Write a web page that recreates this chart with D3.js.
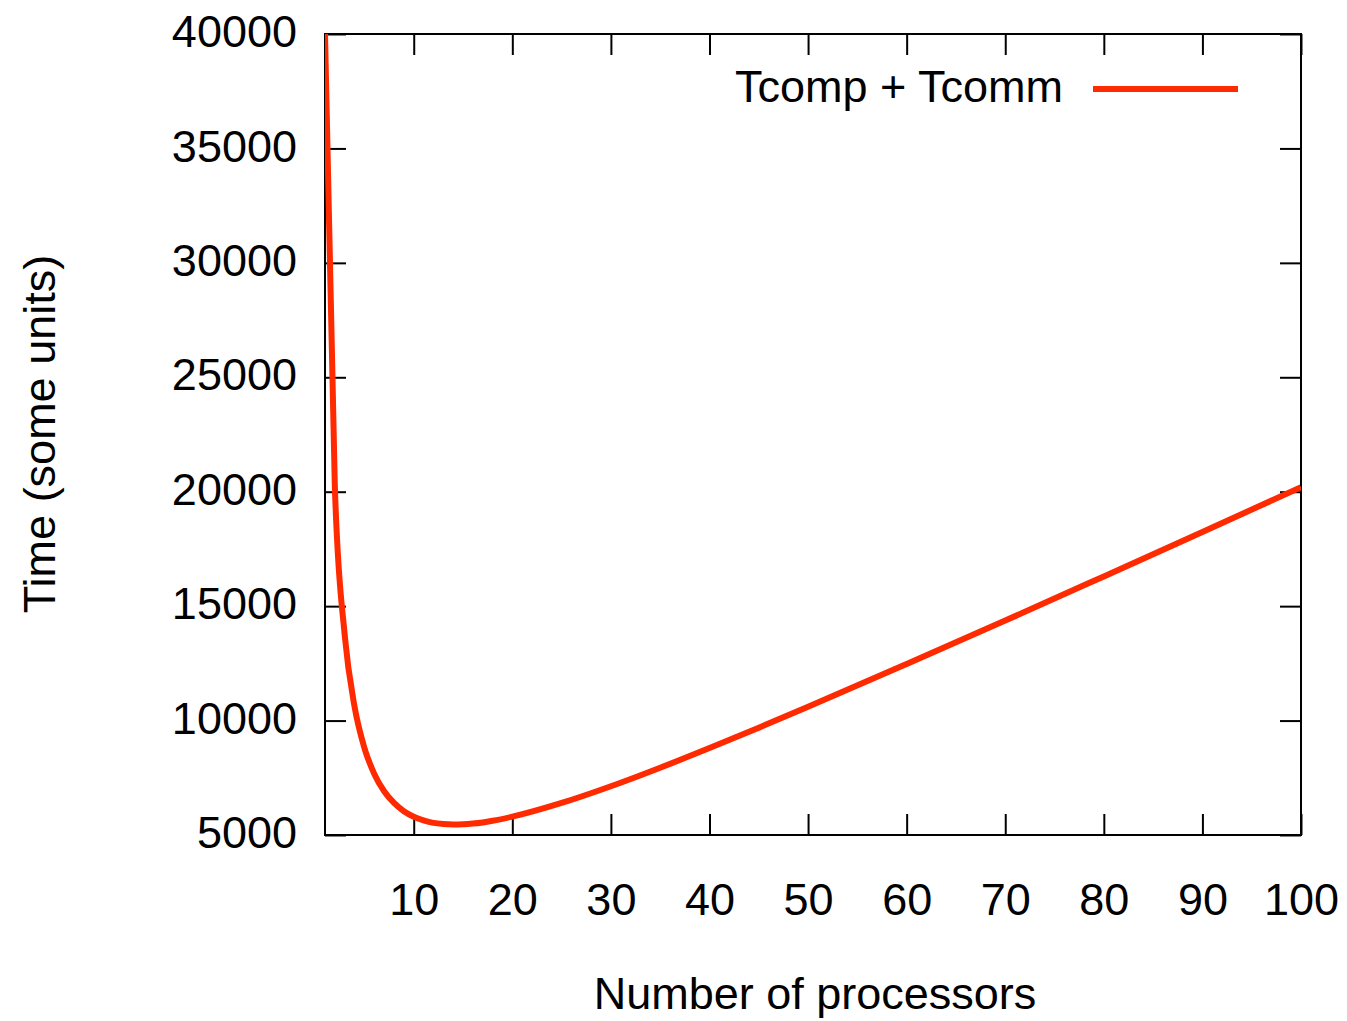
<!DOCTYPE html>
<html>
<head>
<meta charset="utf-8">
<script src="https://cdn.jsdelivr.net/npm/d3@7"></script>
<style>
  html, body { margin: 0; padding: 0; background: #fff; }
  svg { display: block; font-family: "Liberation Sans", Arial, Helvetica, sans-serif; }
</style>
</head>
<body>
<svg id="chart" width="1347" height="1021"></svg>
<script>
// Total execution time versus processor count
const processors = [1, 2, 3, 4, 5, 6, 7, 8, 9, 10, 11, 12, 13, 14, 15, 16, 17, 18, 20, 25, 30, 35, 40, 45, 50, 60, 70, 80, 90, 100];
const totalTime  = [40000, 20200, 13730, 10600, 8800, 7670, 6910, 6400, 6040, 5800, 5640, 5530, 5480, 5460, 5470, 5500, 5550, 5620, 5800, 6400, 7130, 7940, 8800, 9690, 10600, 12470, 14370, 16300, 18240, 20200];
const xTicks = [10, 20, 30, 40, 50, 60, 70, 80, 90, 100];
const yTicks = [5000, 10000, 15000, 20000, 25000, 30000, 35000, 40000];
const seriesName = "Tcomp + Tcomm";

const svg = d3.select("#chart");
const m = { left: 325, top: 34, right: 1301, bottom: 835 };
const tickLen = 21;
const fontSize = 45;

const x = d3.scaleLinear().domain([1, 100]).range([m.left, m.right]);
const y = d3.scaleLinear().domain([5000, 40000]).range([m.bottom, m.top]);

// clip for the curve
svg.append("defs").append("clipPath").attr("id", "plot-clip")
  .append("rect").attr("x", m.left).attr("y", m.top)
  .attr("width", m.right - m.left).attr("height", m.bottom - m.top);

// axes with inward ticks on all four sides
const gBottom = svg.append("g").attr("transform", `translate(0,${m.bottom})`)
  .call(d3.axisBottom(x).tickValues(xTicks).tickSize(-tickLen).tickPadding(tickLen + 27).tickFormat(d3.format("d")));
const gTop = svg.append("g").attr("transform", `translate(0,${m.top})`)
  .call(d3.axisTop(x).tickValues(xTicks).tickSize(-tickLen).tickFormat(""));
const gLeft = svg.append("g").attr("transform", `translate(${m.left},0)`)
  .call(d3.axisLeft(y).tickValues(yTicks).tickSize(-tickLen).tickFormat(d3.format("d")));
const gRight = svg.append("g").attr("transform", `translate(${m.right},0)`)
  .call(d3.axisRight(y).tickValues(yTicks).tickSize(-tickLen).tickFormat(""));

[gBottom, gTop, gLeft, gRight].forEach(g => {
  g.select(".domain").remove();
  g.selectAll(".tick line").attr("stroke", "#000").attr("stroke-width", 2);
  g.selectAll("text").attr("fill", "#000").style("font-size", fontSize + "px")
    .style("font-family", '"Liberation Sans", Arial, Helvetica, sans-serif');
});
// left labels sit just outside the frame, right-aligned
gLeft.selectAll("text").attr("x", -28).attr("dy", "0.28em");
gBottom.selectAll("text").attr("dy", "0.71em");

// frame
svg.append("rect")
  .attr("x", m.left).attr("y", m.top)
  .attr("width", m.right - m.left).attr("height", m.bottom - m.top)
  .attr("fill", "none").attr("stroke", "#000").attr("stroke-width", 2);

// curve
const data = processors.map((p, i) => ({ p, t: totalTime[i] }));
svg.append("path")
  .datum(data)
  .attr("clip-path", "url(#plot-clip)")
  .attr("fill", "none")
  .attr("stroke", "#ff2a00")
  .attr("stroke-width", 6)
  .attr("stroke-linejoin", "round")
  .attr("d", d3.line().x(d => x(d.p)).y(d => y(d.t)).curve(d3.curveMonotoneX));

// legend
svg.append("text")
  .attr("x", 1063).attr("y", 102)
  .attr("text-anchor", "end")
  .style("font-size", fontSize + "px")
  .text(seriesName);
svg.append("line")
  .attr("x1", 1093).attr("x2", 1238).attr("y1", 89).attr("y2", 89)
  .attr("stroke", "#ff2a00").attr("stroke-width", 6);

// axis titles
svg.append("text")
  .attr("x", (m.left + m.right) / 2 + 2).attr("y", 1009)
  .attr("text-anchor", "middle")
  .style("font-size", fontSize + "px")
  .text("Number of processors");
svg.append("text")
  .attr("transform", `translate(55,${434}) rotate(-90)`)
  .attr("text-anchor", "middle")
  .style("font-size", fontSize + "px")
  .text("Time (some units)");
</script>
</body>
</html>
